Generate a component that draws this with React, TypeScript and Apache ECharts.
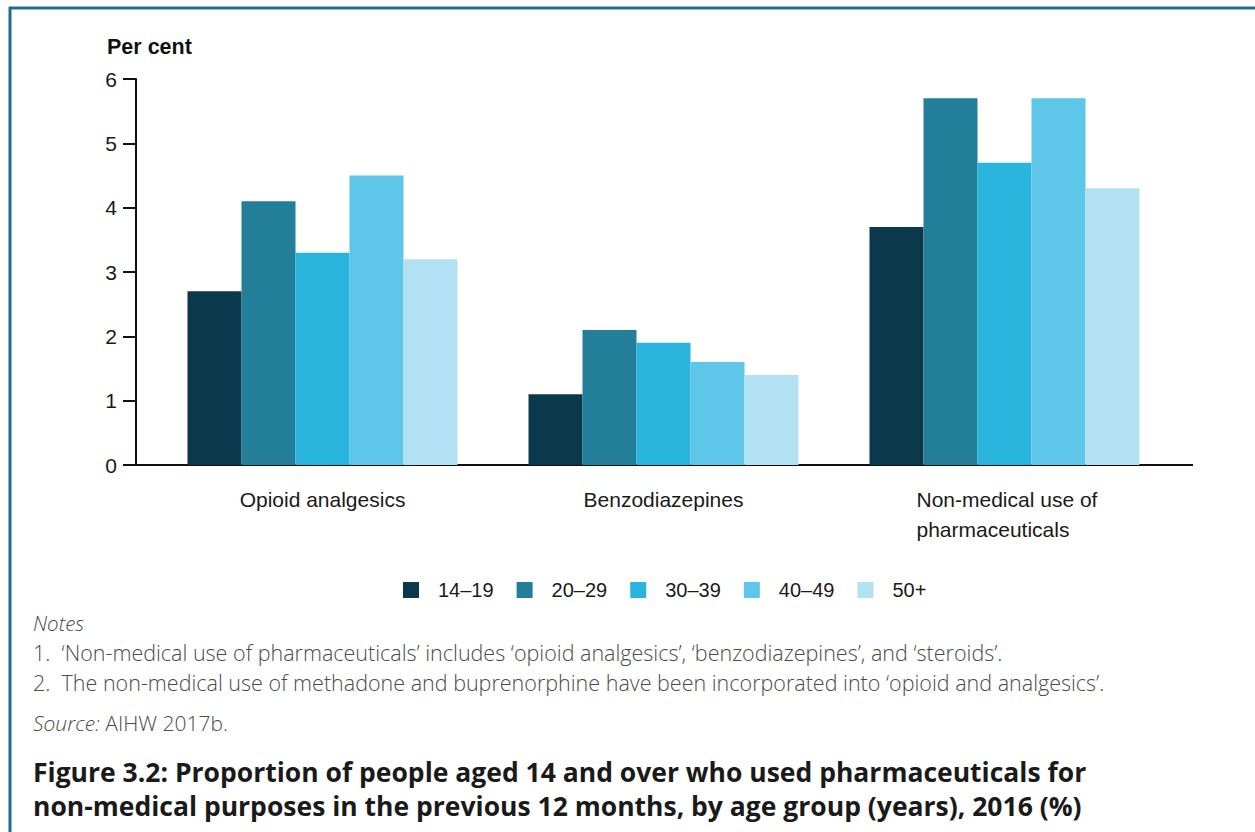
import React, { useEffect, useRef } from "react";
import * as echarts from "echarts";

const categories = ["Opioid analgesics", "Benzodiazepines", "Non-medical use of\npharmaceuticals"];
const ageGroups = ["14–19", "20–29", "30–39", "40–49", "50+"];
const colors = ["#0b384b", "#237f99", "#29b4de", "#5ec6e8", "#b1e1f3"];
const v14_19 = [2.7, 1.1, 3.7];
const v20_29 = [4.1, 2.1, 5.7];
const v30_39 = [3.3, 1.9, 4.7];
const v40_49 = [4.5, 1.6, 5.7];
const v50plus = [3.2, 1.4, 4.3];
const seriesValues = [v14_19, v20_29, v30_39, v40_49, v50plus];
const yTicks = [0, 1, 2, 3, 4, 5, 6];

const noteLines = [
  "1.  \u2018Non-medical use of pharmaceuticals\u2019 includes \u2018opioid analgesics\u2019, \u2018benzodiazepines\u2019, and \u2018steroids\u2019.",
  "2.  The non-medical use of methadone and buprenorphine have been incorporated into \u2018opioid and analgesics\u2019.",
];
const titleLines = [
  "Figure 3.2: Proportion of people aged 14 and over who used pharmaceuticals for",
  "non-medical purposes in the previous 12 months, by age group (years), 2016 (%)",
];

const AX = "Liberation Sans, Arial, sans-serif";
const OS = "Open Sans, sans-serif";
const NOTE = "#4a4a4a";

export default function App() {
  const ref = useRef<HTMLDivElement>(null);
  useEffect(() => {
    if (!ref.current) return;
    const chart = echarts.init(ref.current, null, { renderer: "svg" });
    chart.setOption({
      animation: false,
      backgroundColor: "#ffffff",
      grid: { left: 152, right: 80, top: 79, bottom: 367 },
      legend: {
        data: ageGroups,
        left: 398,
        top: 575,
        icon: "rect",
        itemWidth: 16,
        itemHeight: 16,
        itemGap: 23,
        textStyle: { fontFamily: AX, fontSize: 20, color: "#1a1a1a", padding: [0, 0, 0, 14] },
      },
      xAxis: {
        type: "category",
        data: categories,
        axisLine: { show: false },
        axisTick: { show: false },
        axisLabel: {
          margin: 19,
          fontFamily: AX,
          fontSize: 21,
          color: "#1a1a1a",
          lineHeight: 30,
          formatter: (v: string) => {
            if (v.indexOf("\n") >= 0) {
              return v.split("\n").map((s) => "{l|" + s + "}").join("\n");
            }
            return v;
          },
          rich: {
            l: { width: 176, align: "left", fontFamily: AX, fontSize: 21, color: "#1a1a1a", lineHeight: 30 },
          },
        },
      },
      yAxis: {
        type: "value",
        min: yTicks[0],
        max: yTicks[yTicks.length - 1],
        interval: 1,
        offset: 16,
        axisLine: { show: true, lineStyle: { color: "#111", width: 2 } },
        axisTick: { show: true, length: 13, lineStyle: { color: "#111", width: 2 } },
        axisLabel: { margin: 19, fontFamily: AX, fontSize: 21, color: "#1a1a1a" },
        splitLine: { show: false },
      },
      series: ageGroups.map((name, i) => ({
        name,
        type: "bar",
        data: seriesValues[i],
        barWidth: 54,
        barGap: "0%",
        itemStyle: { color: colors[i] },
      })),
      graphic: [
        { type: "line", shape: { x1: 9, y1: 8, x2: 1255, y2: 8 }, style: { stroke: "#1c6f8f", lineWidth: 3 } },
        { type: "line", shape: { x1: 10, y1: 7, x2: 10, y2: 832 }, style: { stroke: "#1c6f8f", lineWidth: 3 } },
        { type: "line", shape: { x1: 135, y1: 465, x2: 1193, y2: 465 }, style: { stroke: "#111", lineWidth: 2 } },
        {
          type: "text", x: 107, y: 47,
          style: { text: "Per cent", fontFamily: AX, fontWeight: "bold", fontSize: 21.5, fill: "#111", verticalAlign: "middle" },
        },
        {
          type: "text", x: 33, y: 623,
          style: { text: "Notes", fontFamily: OS, fontStyle: "italic", fontWeight: 300, fontSize: 20.5, fill: NOTE, verticalAlign: "middle" },
        },
        {
          type: "text", x: 33, y: 652,
          style: { text: noteLines[0], fontFamily: OS, fontWeight: 300, fontSize: 21.5, fill: NOTE, verticalAlign: "middle" },
        },
        {
          type: "text", x: 33, y: 682,
          style: { text: noteLines[1], fontFamily: OS, fontWeight: 300, fontSize: 21.5, fill: NOTE, verticalAlign: "middle" },
        },
        {
          type: "text", x: 33, y: 723,
          style: {
            text: "{i|Source:} AIHW 2017b.",
            fontFamily: OS, fontWeight: 300, fontSize: 21, fill: NOTE, verticalAlign: "middle",
            rich: { i: { fontFamily: OS, fontStyle: "italic", fontWeight: 300, fontSize: 21, fill: NOTE } },
          },
        },
        {
          type: "text", x: 33, y: 772,
          style: { text: titleLines[0], fontFamily: OS, fontWeight: "bold", fontSize: 26.5, fill: "#1a1a1a", verticalAlign: "middle" },
        },
        {
          type: "text", x: 33, y: 806,
          style: { text: titleLines[1], fontFamily: OS, fontWeight: "bold", fontSize: 26.5, fill: "#1a1a1a", verticalAlign: "middle" },
        },
      ],
    });
    return () => chart.dispose();
  }, []);
  return (
    <div
      ref={ref}
      style={{ position: "absolute", left: 0, top: 0, width: 1255, height: 832, background: "#fff" }}
    />
  );
}
